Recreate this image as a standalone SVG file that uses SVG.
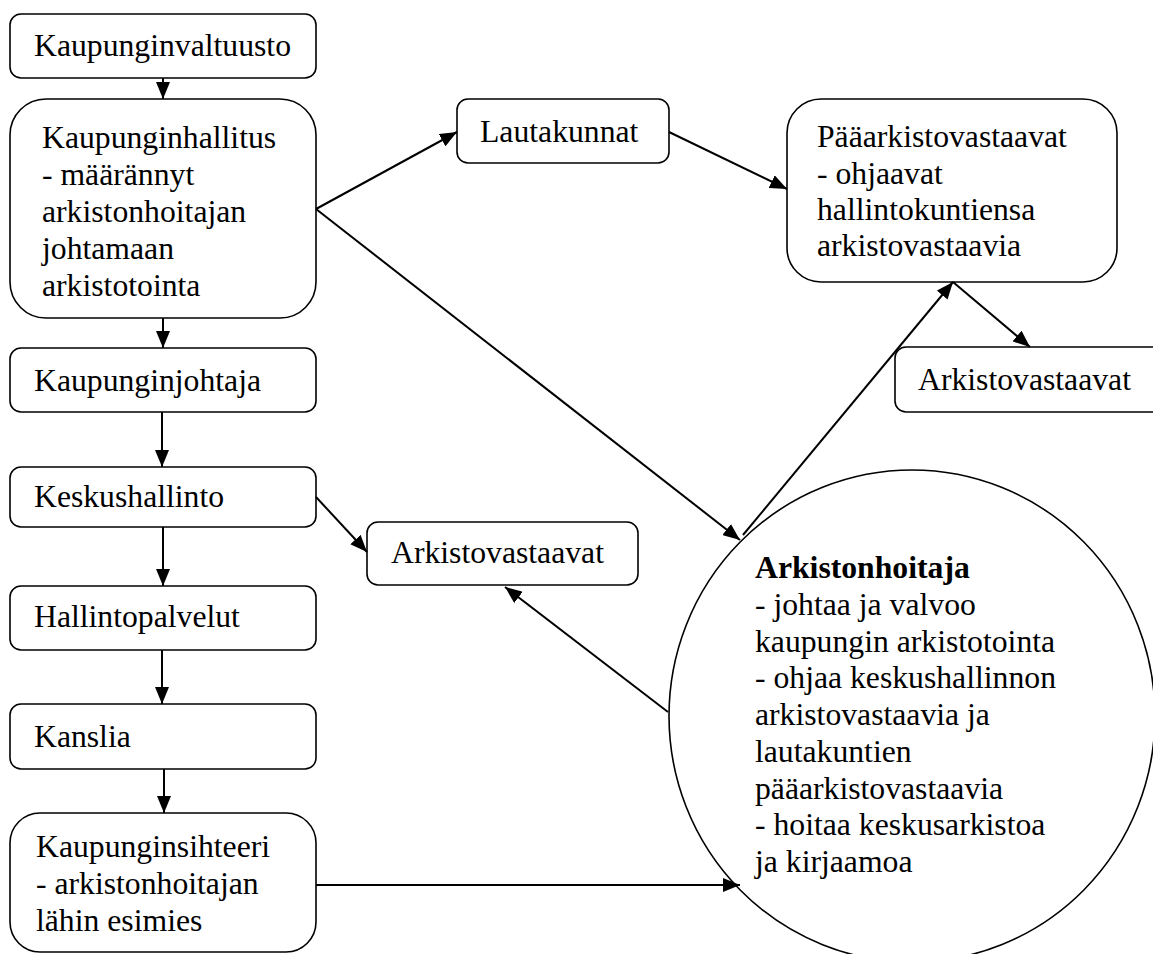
<svg xmlns="http://www.w3.org/2000/svg" width="1153" height="954" viewBox="0 0 1153 954">
<style>
.box{fill:#fff;stroke:#000;stroke-width:1.6}
.t{font-family:"Liberation Serif","Times New Roman",serif;font-size:31.7px;fill:#000}
.b{font-weight:bold}
.c{fill:none;stroke:#000;stroke-width:2}
</style>
<defs>
<marker id="ah" markerUnits="userSpaceOnUse" markerWidth="18" markerHeight="14" refX="17" refY="7" orient="auto">
<path d="M0,0 L17,7 L0,14 z" fill="#000"/>
</marker>
</defs>
<rect width="1153" height="954" fill="#fff"/>
<g id="n-valtuusto">
<rect class="box" x="10" y="14" width="306" height="64" rx="11"/>
<text class="t" x="34" y="56">Kaupunginvaltuusto</text>
</g>
<g id="n-hallitus">
<rect class="box" x="10" y="99" width="306" height="219" rx="36"/>
<text class="t" x="42" y="148">Kaupunginhallitus</text>
<text class="t" x="42" y="185">- määrännyt</text>
<text class="t" x="42" y="222">arkistonhoitajan</text>
<text class="t" x="42" y="259">johtamaan</text>
<text class="t" x="42" y="296">arkistotointa</text>
</g>
<g id="n-johtaja">
<rect class="box" x="10" y="348" width="306" height="64" rx="11"/>
<text class="t" x="34" y="391">Kaupunginjohtaja</text>
</g>
<g id="n-keskushallinto">
<rect class="box" x="10" y="467" width="306" height="60" rx="11"/>
<text class="t" x="34" y="507">Keskushallinto</text>
</g>
<g id="n-hallintopalvelut">
<rect class="box" x="10" y="586" width="306" height="64" rx="11"/>
<text class="t" x="34" y="627">Hallintopalvelut</text>
</g>
<g id="n-kanslia">
<rect class="box" x="10" y="704" width="306" height="65" rx="11"/>
<text class="t" x="34" y="747">Kanslia</text>
</g>
<g id="n-sihteeri">
<rect class="box" x="10" y="813" width="306" height="139" rx="30"/>
<text class="t" x="36" y="857">Kaupunginsihteeri</text>
<text class="t" x="36" y="894">- arkistonhoitajan</text>
<text class="t" x="36" y="931">lähin esimies</text>
</g>
<g id="n-lautakunnat">
<rect class="box" x="457" y="99" width="212" height="64" rx="11"/>
<text class="t" x="480" y="142">Lautakunnat</text>
</g>
<g id="n-paaarkisto">
<rect class="box" x="787" y="99" width="330" height="183" rx="34"/>
<text class="t" x="817" y="147">Pääarkistovastaavat</text>
<text class="t" x="817" y="183.5">- ohjaavat</text>
<text class="t" x="817" y="220">hallintokuntiensa</text>
<text class="t" x="817" y="256">arkistovastaavia</text>
</g>
<g id="n-arkistovastaavat-r">
<rect class="box" x="895" y="347" width="270" height="65" rx="11"/>
<text class="t" x="918" y="390">Arkistovastaavat</text>
</g>
<g id="n-arkistovastaavat-m">
<rect class="box" x="367" y="522" width="271" height="63" rx="11"/>
<text class="t" x="391" y="563">Arkistovastaavat</text>
</g>
<g id="n-arkistonhoitaja">
<ellipse class="box" cx="912" cy="716" rx="243" ry="246"/>
<text class="t b" x="755" y="578">Arkistonhoitaja</text>
<text class="t" x="755" y="614.75">- johtaa ja valvoo</text>
<text class="t" x="755" y="651.5">kaupungin arkistotointa</text>
<text class="t" x="755" y="688.25">- ohjaa keskushallinnon</text>
<text class="t" x="755" y="725">arkistovastaavia ja</text>
<text class="t" x="755" y="761.75">lautakuntien</text>
<text class="t" x="755" y="798.5">pääarkistovastaavia</text>
<text class="t" x="755" y="835.25">- hoitaa keskusarkistoa</text>
<text class="t" x="755" y="872">ja kirjaamoa</text>
</g>
<g id="connectors">
<line class="c" x1="163" y1="78" x2="163" y2="99" marker-end="url(#ah)"/>
<line class="c" x1="163" y1="318" x2="163" y2="348" marker-end="url(#ah)"/>
<line class="c" x1="162" y1="412" x2="162" y2="467" marker-end="url(#ah)"/>
<line class="c" x1="163" y1="527" x2="163" y2="586" marker-end="url(#ah)"/>
<line class="c" x1="162" y1="650" x2="162" y2="704" marker-end="url(#ah)"/>
<line class="c" x1="164" y1="769" x2="164" y2="813" marker-end="url(#ah)"/>
<line class="c" x1="316" y1="209" x2="457" y2="132" marker-end="url(#ah)"/>
<line class="c" x1="316" y1="209" x2="740" y2="540" marker-end="url(#ah)"/>
<line class="c" x1="669" y1="132" x2="787" y2="189" marker-end="url(#ah)"/>
<line class="c" x1="953" y1="282" x2="1030" y2="347" marker-end="url(#ah)"/>
<line class="c" x1="743" y1="535" x2="953" y2="282" marker-end="url(#ah)"/>
<line class="c" x1="316" y1="497" x2="367" y2="552" marker-end="url(#ah)"/>
<line class="c" x1="668" y1="712" x2="505" y2="587" marker-end="url(#ah)"/>
<line class="c" x1="316" y1="885" x2="740" y2="885" marker-end="url(#ah)"/>
</g>
</svg>
